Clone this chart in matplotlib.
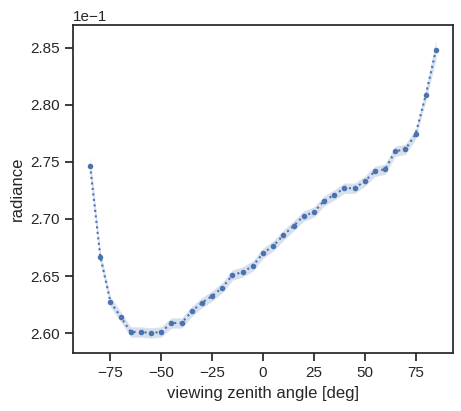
import numpy as np
import matplotlib
matplotlib.use("Agg")
import matplotlib.pyplot as plt
import seaborn as sns

sns.set_theme(style="ticks")
plt.rcParams["font.family"] = ["Liberation Sans", "DejaVu Sans"]

# viewing zenith angles and radiance
vza = [-85, -80, -75, -70, -65, -60, -55, -50, -45, -40, -35, -30, -25, -20,
       -15, -10, -5, 0, 5, 10, 15, 20, 25, 30, 35, 40, 45, 50, 55, 60, 65,
       70, 75, 80, 85]
radiance = [0.27465, 0.2667, 0.26272, 0.26143, 0.26009, 0.26009, 0.26000,
            0.26010, 0.26088, 0.26088, 0.26190, 0.26266, 0.26325, 0.26398,
            0.26509, 0.26535, 0.26588, 0.26700, 0.26763, 0.26857, 0.26939,
            0.27026, 0.27060, 0.27158, 0.27211, 0.27270, 0.27270, 0.27330,
            0.27418, 0.27436, 0.27594, 0.27611, 0.27743, 0.28085, 0.28480]
spread = [0.00090, 0.00050, 0.00045, 0.00045, 0.00045, 0.00045, 0.00045,
          0.00045, 0.00045, 0.00045, 0.00045, 0.00045, 0.00045, 0.00045,
          0.00045, 0.00045, 0.00045, 0.00045, 0.00045, 0.00045, 0.00045,
          0.00045, 0.00045, 0.00045, 0.00045, 0.00045, 0.00045, 0.00045,
          0.00045, 0.00045, 0.00045, 0.00045, 0.00045, 0.00050, 0.00090]

x = np.array(vza)
y = np.array(radiance)
e = np.array(spread)

fig, ax = plt.subplots(figsize=(4.61, 4.11), dpi=100)
col = sns.color_palette("deep")[0]
ax.fill_between(x, y - e, y + e, color=col, alpha=0.22, lw=0)
ax.plot(x, y, ls=":", marker="o", markersize=4, mec=col, mew=0,
        color=col, lw=1.5)
ax.ticklabel_format(axis="y", style="sci", scilimits=(0, 0))
ax.set_xlabel("viewing zenith angle [deg]")
ax.set_ylabel("radiance")
fig.subplots_adjust(left=0.158, right=0.983, top=0.939, bottom=0.141)
fig.savefig("out.png", dpi=100)
